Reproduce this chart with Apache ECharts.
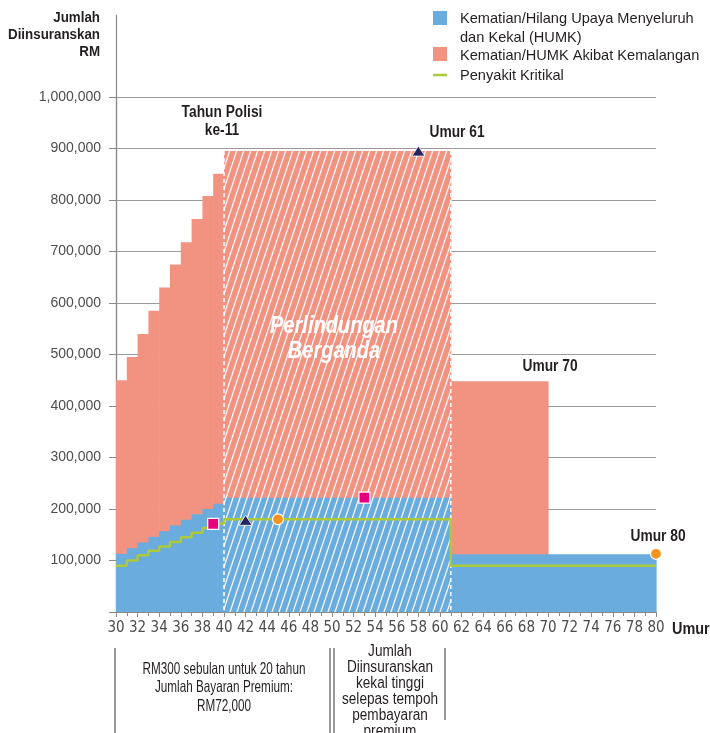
<!DOCTYPE html>
<html>
<head>
<meta charset="utf-8">
<script src="https://cdn.jsdelivr.net/npm/echarts@6/dist/echarts.min.js"></script>
<style>
    html, body { margin: 0; padding: 0; background: #fff; }
    #chart { width: 710px; height: 733px; }
</style>
</head>
<body>
<div id="chart"></div>
<script>
// 颜色
const BLUE = '#6aacdd'
const RED = '#f29382'
const GREEN = '#abc93a'
const SANS = "'Liberation Sans', Arial, sans-serif"
const COND = "'DejaVu Sans Condensed', 'Liberation Sans', sans-serif"

// HUMK (biru): umur mula, umur akhir, nilai
const humkFrom = [30, 31, 32, 33, 34, 35, 36, 37, 38, 39, 40, 61]
const humkTo = [31, 32, 33, 34, 35, 36, 37, 38, 39, 40, 61, 80]
const humkValue = [113000, 124000, 135000, 146000, 157000, 168000, 179000, 190000, 200000, 210000, 222000, 112000]

// Kemalangan (merah): jumlah atas
const accFrom = [30, 31, 32, 33, 34, 35, 36, 37, 38, 39, 40, 61]
const accTo = [31, 32, 33, 34, 35, 36, 37, 38, 39, 40, 61, 70]
const accValue = [450000, 495000, 540000, 585000, 630000, 675000, 718000, 763000, 808000, 851000, 895000, 448000]

// Penyakit Kritikal (garis hijau, step)
const critAge = [30, 31, 32, 33, 34, 35, 36, 37, 38, 39, 40, 61, 80]
const critValue = [90000, 100000, 110000, 119000, 127000, 136000, 145000, 154000, 163000, 172000, 180000, 90000, 90000]

// kawasan berjalur (Perlindungan Berganda)
const hatchFrom = [40]
const hatchTo = [61]
const hatchTop = [895000]

// penanda
const squarePts = [[39, 171000], [53, 222000]]
const trianglePts = [[42, 178000], [58, 895000]]
const circlePts = [[45, 180000], [80, 113000]]

// jalur putih
function hatchTile() {
    const c = document.createElement('canvas')
    c.width = 7
    c.height = 21
    const g = c.getContext('2d')
    g.strokeStyle = 'rgba(255,255,255,0.95)'
    g.lineWidth = 1.3
    for (let k = -1; k <= 1; k++) {
        g.beginPath()
        g.moveTo(k * 7, 21)
        g.lineTo(k * 7 + 7, 0)
        g.stroke()
    }
    return c
}

function zip3(a, b, c) {
    return a.map((v, i) => [v, b[i], c[i]])
}

function rectRender(color) {
    return function (params, api) {
        const p0 = api.coord([api.value(0), api.value(2)])
        const p1 = api.coord([api.value(1), 0])
        // sedikit bertindih supaya tiada garis halus antara bar
        return {
            type: 'rect',
            shape: { x: p0[0], y: p0[1], width: p1[0] - p0[0] + 0.6, height: p1[1] - p0[1] },
            style: { fill: color, opacity: 1 }
        }
    }
}

const tile = hatchTile()

function hatchRender(params, api) {
    const p0 = api.coord([api.value(0), api.value(2)])
    const p1 = api.coord([api.value(1), 0])
    const dash = { stroke: '#fff', lineWidth: 1.5, lineDash: [4, 3] }
    return {
        type: 'group',
        children: [
            {
                type: 'rect',
                shape: { x: p0[0], y: p0[1], width: p1[0] - p0[0], height: p1[1] - p0[1] },
                style: { fill: { image: tile, repeat: 'repeat' } }
            },
            { type: 'line', shape: { x1: p0[0], y1: p0[1], x2: p0[0], y2: p1[1] }, style: dash },
            { type: 'line', shape: { x1: p1[0], y1: p0[1], x2: p1[0], y2: p1[1] }, style: dash }
        ]
    }
}

const chart = echarts.init(document.getElementById('chart'))

// teks tebal, dimampatkan mendatar
const boldText = (text, x, y, size, align, sx) => ({
    type: 'text', x: x, y: y, scaleX: sx || 0.86, z: 10,
    style: {
        text: text, fill: '#231f20', font: 'bold ' + size + 'px ' + SANS,
        textAlign: align || 'center', lineHeight: size + 2
    }
})

const plainText = (text, x, y, size, lh, sx) => ({
    type: 'text', x: x, y: y, scaleX: sx, z: 10,
    style: { text: text, fill: '#231f20', font: size + 'px ' + SANS, textAlign: 'center', lineHeight: lh }
})

const vline = (x, y1, y2) => ({
    type: 'line', shape: { x1: x, y1: y1, x2: x, y2: y2 }, style: { stroke: '#555', lineWidth: 1.2 }
})

chart.setOption({
    animation: false,
    grid: [
        { left: 116, right: 54, top: 97, bottom: 121 },
        { left: 116, right: 54, top: 15, bottom: 121 }
    ],
    xAxis: [{
        type: 'value',
        gridIndex: 0,
        z: 0,
        min: 30, max: 80, interval: 2,
        axisLine: { show: true, onZero: false, lineStyle: { color: '#8a8a8a', width: 1.2 } },
        axisTick: { show: true, length: 5, lineStyle: { color: '#8a8a8a' } },
        minorTick: { show: true, splitNumber: 2, length: 4, lineStyle: { color: '#8a8a8a' } },
        splitLine: { show: false },
        axisLabel: { color: '#4d4d4d', fontSize: 15, fontFamily: COND, margin: 9 }
    }, {
        type: 'value', gridIndex: 1, min: 30, max: 80, show: false
    }],
    yAxis: [{
        type: 'value',
        gridIndex: 0,
        z: 0,
        min: 0, max: 1000000, interval: 100000,
        axisLine: { show: true, lineStyle: { color: '#8a8a8a', width: 1.2 } },
        axisTick: { show: true, length: 7, lineStyle: { color: '#8a8a8a' } },
        splitLine: { show: true, lineStyle: { color: '#9a9a9a', width: 1.2 } },
        axisLabel: {
            color: '#4d4d4d', fontSize: 14, fontFamily: SANS, margin: 15,
            formatter: v => v === 0 ? '' : v.toLocaleString('en-US')
        }
    }, {
        type: 'value', gridIndex: 1, min: 0, max: 1, z: 0,
        axisLine: { show: true, lineStyle: { color: '#8a8a8a', width: 1.2 } },
        axisTick: { show: false }, axisLabel: { show: false }, splitLine: { show: false }
    }],
    series: [
        {
            name: 'Kematian/HUMK Akibat Kemalangan',
            type: 'custom', z: 3,
            renderItem: rectRender(RED),
            encode: { x: [0, 1], y: 2 },
            data: zip3(accFrom, accTo, accValue)
        },
        {
            name: 'Kematian/Hilang Upaya Menyeluruh dan Kekal (HUMK)',
            type: 'custom', z: 3,
            renderItem: rectRender(BLUE),
            encode: { x: [0, 1], y: 2 },
            data: zip3(humkFrom, humkTo, humkValue)
        },
        {
            type: 'custom', z: 3,
            renderItem: hatchRender,
            encode: { x: [0, 1], y: 2 },
            data: zip3(hatchFrom, hatchTo, hatchTop)
        },
        {
            name: 'Penyakit Kritikal',
            type: 'line', z: 4,
            step: 'end',
            symbol: 'none',
            lineStyle: { color: GREEN, width: 2.5 },
            data: critAge.map((a, i) => [a, critValue[i]])
        },
        {
            type: 'scatter', symbol: 'rect', symbolSize: 11, z: 6,
            itemStyle: { color: '#e5007d', borderColor: '#fff', borderWidth: 1.2, opacity: 1 },
            data: squarePts
        },
        {
            type: 'scatter', symbol: 'triangle', symbolSize: [13, 10], z: 6,
            itemStyle: { color: '#26245c', borderColor: '#fff', borderWidth: 0.8, opacity: 1 },
            data: trianglePts
        },
        {
            type: 'scatter', symbol: 'circle', symbolSize: 11, z: 6,
            itemStyle: { color: '#f7941d', borderColor: '#fff', borderWidth: 1.2, opacity: 1 },
            data: circlePts
        }
    ],
    graphic: [
        // tajuk paksi
        boldText('Jumlah\nDiinsuranskan\nRM', 100, 9, 15, 'right', 0.89),
        boldText('Umur', 672, 621, 16, 'left', 0.9),
        // legenda
        { type: 'rect', shape: { x: 433, y: 11, width: 14, height: 14 }, style: { fill: BLUE } },
        { type: 'text', x: 460, y: 9, style: { text: 'Kematian/Hilang Upaya Menyeluruh\ndan Kekal (HUMK)', fill: '#231f20', font: '14.6px ' + SANS, lineHeight: 19 } },
        { type: 'rect', shape: { x: 433, y: 47, width: 14, height: 14 }, style: { fill: RED } },
        { type: 'text', x: 460, y: 46, style: { text: 'Kematian/HUMK Akibat Kemalangan', fill: '#231f20', font: '14.6px ' + SANS, lineHeight: 19 } },
        { type: 'line', shape: { x1: 433, y1: 75, x2: 447, y2: 75 }, style: { stroke: GREEN, lineWidth: 2.5 } },
        { type: 'text', x: 460, y: 66, style: { text: 'Penyakit Kritikal', fill: '#231f20', font: '14.6px ' + SANS, lineHeight: 19 } },
        // anotasi
        boldText('Tahun Polisi\nke-11', 222, 104, 16),
        boldText('Umur 61', 457, 124, 16),
        boldText('Umur 70', 550, 358, 16),
        boldText('Umur 80', 658, 528, 16),
        {
            type: 'text', x: 334, y: 314, z: 10, scaleX: 0.87,
            style: {
                text: 'Perlindungan\nBerganda', fill: '#fff', textAlign: 'center', lineHeight: 25,
                font: 'italic bold 23px ' + SANS
            }
        },
        // kotak bawah
        vline(115, 648, 733),
        vline(330, 648, 733),
        vline(334, 648, 733),
        vline(445, 648, 720),
        plainText('RM300 sebulan untuk 20 tahun\nJumlah Bayaran Premium:\nRM72,000', 224, 660, 16.5, 18.5, 0.71),
        plainText('Jumlah\nDiinsuranskan\nkekal tinggi\nselepas tempoh\npembayaran\npremium', 390, 644, 16, 16, 0.85)
    ]
})
</script>
</body>
</html>
